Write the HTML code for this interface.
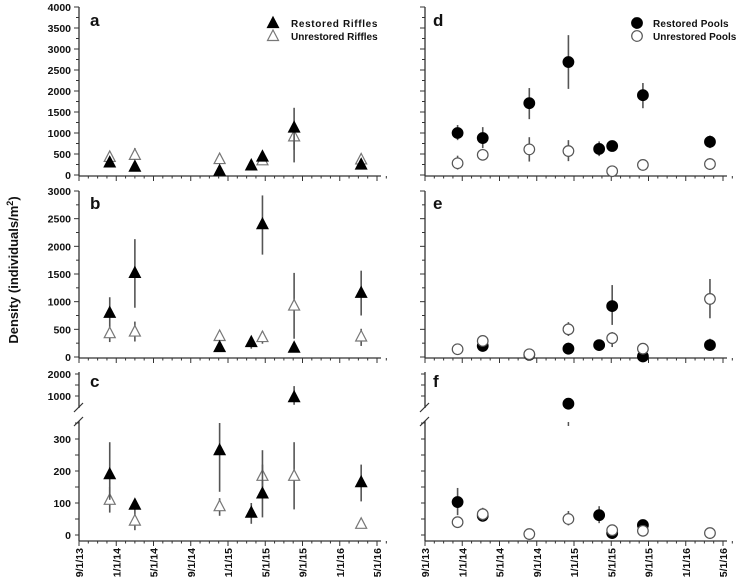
<!DOCTYPE html>
<html><head><meta charset="utf-8">
<style>
html,body{margin:0;padding:0;background:#fff;}
svg{display:block;font-family:"Liberation Sans",Arial,sans-serif;}
text{font-weight:bold;fill:#111;}
</style></head>
<body>
<svg id="chart" width="741" height="585" viewBox="0 0 741 585" xmlns="http://www.w3.org/2000/svg">
<text transform="translate(18,270) rotate(-90)" text-anchor="middle" font-size="13">Density (individuals/m<tspan font-size="9" dy="-5">2</tspan><tspan dy="5">)</tspan></text>
</svg>
<script>
// x values are months since 9/1/13
const tickLabels = ["9/1/13","1/1/14","5/1/14","9/1/14","1/1/15","5/1/15","9/1/15","1/1/16","5/1/16"];
const yTicksA = [0,500,1000,1500,2000,2500,3000,3500,4000];
const yTicksB = [0,500,1000,1500,2000,2500,3000];
const yTicksCLow = [0,100,200,300];
const yTicksCHigh = [1000,2000];

const rifX_a_r = [3.3,6.0,15.1,18.5,19.7,23.1,30.3];
const rifY_a_r = [300,200,100,230,440,1130,250];
const rifLo_a_r = [180,150,40,160,380,300,200];
const rifHi_a_r = [420,260,160,300,500,1600,300];
const rifX_a_u = [3.3,6.0,15.1,19.7,23.1,30.3];
const rifY_a_u = [430,480,380,350,920,370];
const rifLo_a_u = [380,420,330,300,600,320];
const rifHi_a_u = [480,640,430,400,1100,420];

const rifX_b_r = [3.3,6.0,15.1,18.5,19.7,23.1,30.3];
const rifY_b_r = [800,1520,180,270,2400,170,1160];
const rifLo_b_r = [560,890,150,150,1850,150,750];
const rifHi_b_r = [1080,2130,210,350,2920,200,1560];
const rifX_b_u = [3.3,6.0,15.1,19.7,23.1,30.3];
const rifY_b_u = [430,460,380,360,930,370];
const rifLo_b_u = [270,280,330,240,330,200];
const rifHi_b_u = [560,640,430,470,1520,510];

const rifX_c_r = [3.3,6.0,15.1,18.5,19.7,23.1,30.3];
const rifY_c_r = [190,95,265,70,130,950,165];
const rifLo_c_r = [110,80,135,35,55,600,105];
const rifHi_c_r = [290,110,350,100,265,1450,220];
const rifX_c_u = [3.3,6.0,15.1,19.7,23.1,30.3];
const rifY_c_u = [110,45,90,185,185,35];
const rifLo_c_u = [70,15,60,150,80,30];
const rifHi_c_u = [150,80,115,220,290,40];

const poolX_d_r = [3.5,6.2,11.2,15.4,18.7,20.1,23.4,30.6];
const poolY_d_r = [1000,880,1710,2690,620,690,1900,790];
const poolLo_d_r = [830,640,1330,2050,450,690,1590,640];
const poolHi_d_r = [1190,1140,2070,3330,800,690,2190,940];
const poolX_d_u = [3.5,6.2,11.2,15.4,20.1,23.4,30.6];
const poolY_d_u = [280,480,610,570,90,240,260];
const poolLo_d_u = [130,400,320,330,90,240,120];
const poolHi_d_u = [460,560,900,830,90,240,400];

const poolX_e_r = [6.2,11.2,15.4,18.7,20.1,23.4,30.6];
const poolY_e_r = [200,40,150,215,920,10,215];
const poolLo_e_r = [200,40,80,120,580,10,120];
const poolHi_e_r = [200,40,260,300,1300,10,330];
const poolX_e_u = [3.5,6.2,11.2,15.4,20.1,23.4,30.6];
const poolY_e_u = [140,290,50,500,340,150,1050];
const poolLo_e_u = [140,200,50,380,180,150,700];
const poolHi_e_u = [140,380,50,630,450,150,1410];

const poolX_f_r = [3.5,6.2,15.4,18.7,20.1,23.4];
const poolY_f_r = [103,60,650,62,6,31];
const poolLo_f_r = [62,45,650,37,6,31];
const poolHi_f_r = [147,75,650,90,6,31];
const poolX_f_u = [3.5,6.2,11.2,15.4,20.1,23.4,30.6];
const poolY_f_u = [40,65,3,50,15,13,6];
const poolLo_f_u = [28,45,3,30,15,13,6];
const poolHi_f_u = [52,85,3,75,15,13,6];

const NS = "http://www.w3.org/2000/svg";
const svg = document.getElementById('chart');
function mk(tag, attrs, parent){
  const e = document.createElementNS(NS, tag);
  for (const k in attrs) e.setAttribute(k, attrs[k]);
  (parent||svg).appendChild(e);
  return e;
}
const cols = [{x0:79,x1:377},{x0:425,x1:723}];
const PPM = (377-79)/32;
function xS(col,m){ return cols[col].x0 + m*PPM; }
const yA = v => 175 - v*(168/4000);
const yB = v => 357 - v*(166/3000);
const yC = v => v <= 400 ? 535 - v*0.32 : 396 - (v-1000)*0.022;

function drawAxes(col, yFn, axisY, topY, ticks, labels, bottom, broken){
  const x0 = cols[col].x0;
  const g = mk('g', {});
  
  
  mk('line',{x1:x0,y1:axisY,x2:cols[col].x1+4,y2:axisY,stroke:'#333','stroke-width':1.3},g);
  for(let m=0;m<=33;m++){
    const x = xS(col,m), major = m%4===0;
    mk('line',{x1:x,y1:axisY,x2:x,y2:axisY+(major?5:2.5),stroke:'#333','stroke-width':1},g);
  }
  if(bottom){
    tickLabels.forEach((t,i)=>{
      const x = xS(col,i*4);
      const tx = mk('text',{transform:`translate(${x+4},${axisY+7}) rotate(-90)`,'text-anchor':'end','font-size':10.5},g);
      
      
      tx.textContent = t;
    });
  }
  if(broken){
    mk('line',{x1:x0,y1:topY,x2:x0,y2:408,stroke:'#333','stroke-width':1.3},g);
    mk('line',{x1:x0,y1:421,x2:x0,y2:axisY,stroke:'#333','stroke-width':1.3},g);
    mk('line',{x1:x0-5,y1:412,x2:x0+4,y2:403,stroke:'#333','stroke-width':1.2},g);
    mk('line',{x1:x0-5,y1:426,x2:x0+4,y2:417,stroke:'#333','stroke-width':1.2},g);
    [0,50,100,150,200,250,300,350].forEach(v=>mk('line',{x1:x0-4,y1:yC(v),x2:x0,y2:yC(v),stroke:'#333'},g));
    [1000,1500,2000].forEach(v=>mk('line',{x1:x0-4,y1:yC(v),x2:x0,y2:yC(v),stroke:'#333'},g));
    if(labels){
      yTicksCLow.concat(yTicksCHigh).forEach(v=>{
        const tx = mk('text',{x:x0-8,y:yC(v)+4,'text-anchor':'end','font-size':10.5},g);
        
        
        tx.textContent = v;
      });
    }
  } else {
    mk('line',{x1:x0,y1:topY,x2:x0,y2:axisY,stroke:'#333','stroke-width':1.3},g);
    const maxV = ticks[ticks.length-1];
    for(let v=0; v<=maxV; v+=250){
      mk('line',{x1:x0-(v%500===0?5:3),y1:yFn(v),x2:x0,y2:yFn(v),stroke:'#333'},g);
    }
    if(labels){
      ticks.forEach(v=>{
        const tx = mk('text',{x:x0-8,y:yFn(v)+4,'text-anchor':'end','font-size':10.5},g);
        
        
        tx.textContent = v;
      });
    }
  }
}
drawAxes(0,yA,176,7,yTicksA,true,false,false);
drawAxes(0,yB,358,191,yTicksB,true,false,false);
drawAxes(0,yC,541,372,null,true,true,true);
drawAxes(1,yA,176,7,yTicksA,false,false,false);
drawAxes(1,yB,358,191,yTicksB,false,false,false);
drawAxes(1,yC,541,372,null,false,true,true);

function marker(g, kind, filled, x, y){
  let e;
  if(kind==='tri'){
    e = mk('polygon',{points:`${x},${y-6} ${x-5.5},${y+4.5} ${x+5.5},${y+4.5}`,fill:filled?'#000':'#fff',stroke:filled?'#000':'#777','stroke-width':1.2},g);
  } else {
    e = mk('circle',{cx:x,cy:y,r:5.3,fill:filled?'#000':'#fff',stroke:filled?'#000':'#555','stroke-width':1.2},g);
  }
  return e;
}
function series(col,yFn,xs,ys,lo,hi,kind,filled,name){
  const g = mk('g',{});
  
  
  xs.forEach((m,i)=>{
    const x = xS(col,m);
    if(hi[i]!==lo[i]){
      const eb = mk('line',{x1:x,y1:yFn(hi[i]),x2:x,y2:yFn(lo[i]),stroke:'#555','stroke-width':1.6},g);
      
      
    }
  });
  xs.forEach((m,i)=>{
    const p = marker(g,kind,filled,xS(col,m),yFn(ys[i]));
    
    
  });
}
series(0,yA,rifX_a_u,rifY_a_u,rifLo_a_u,rifHi_a_u,'tri',false,'series-a-unrestored');
series(0,yA,rifX_a_r,rifY_a_r,rifLo_a_r,rifHi_a_r,'tri',true,'series-a-restored');
series(0,yB,rifX_b_u,rifY_b_u,rifLo_b_u,rifHi_b_u,'tri',false,'series-b-unrestored');
series(0,yB,rifX_b_r,rifY_b_r,rifLo_b_r,rifHi_b_r,'tri',true,'series-b-restored');
series(0,yC,rifX_c_u,rifY_c_u,rifLo_c_u,rifHi_c_u,'tri',false,'series-c-unrestored');
series(0,yC,rifX_c_r,rifY_c_r,rifLo_c_r,rifHi_c_r,'tri',true,'series-c-restored');
series(1,yA,poolX_d_r,poolY_d_r,poolLo_d_r,poolHi_d_r,'circ',true,'series-d-restored');
series(1,yA,poolX_d_u,poolY_d_u,poolLo_d_u,poolHi_d_u,'circ',false,'series-d-unrestored');
series(1,yB,poolX_e_r,poolY_e_r,poolLo_e_r,poolHi_e_r,'circ',true,'series-e-restored');
series(1,yB,poolX_e_u,poolY_e_u,poolLo_e_u,poolHi_e_u,'circ',false,'series-e-unrestored');
series(1,yC,poolX_f_r,poolY_f_r,poolLo_f_r,poolHi_f_r,'circ',true,'series-f-restored');
series(1,yC,poolX_f_u,poolY_f_u,poolLo_f_u,poolHi_f_u,'circ',false,'series-f-unrestored');
// small tick below the off-scale point in f
const ft = mk('line',{x1:xS(1,15.4),y1:422,x2:xS(1,15.4),y2:426,stroke:'#555','stroke-width':1.5});



[['a',90,26],['b',90,209],['c',90,387],['d',433,26],['e',433,209],['f',433,387]].forEach(p=>{
  const t = mk('text',{x:p[1],y:p[2],'font-size':17});
  
  
  t.textContent = p[0];
});
function legend(kind,x,tx,name1,name2){
  const g = mk('g',{});
  
  
  marker(g,kind,true,x,23);
  marker(g,kind,false,x,36);
  const t1 = mk('text',{x:tx,y:27,'font-size':10,textLength:name1.length*5.4});
  
  
  t1.textContent = name1;
  g.appendChild(t1);
  const t2 = mk('text',{x:tx,y:40,'font-size':10},g);
  
  
  t2.textContent = name2;
}
legend('tri',273,291,'Restored Riffles','Unrestored Riffles');
legend('circ',637,653,'Restored Pools','Unrestored Pools');
</script>
</body></html>
